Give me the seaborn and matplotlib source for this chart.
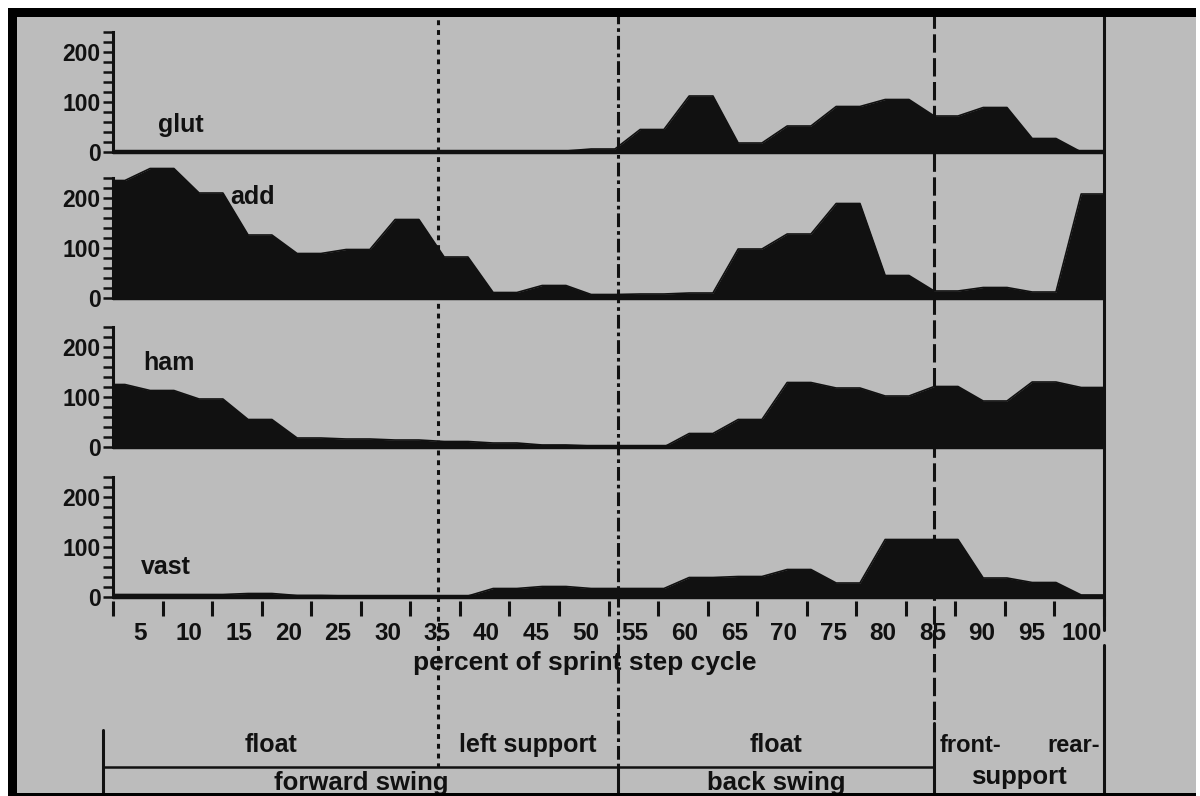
import numpy as np
import matplotlib
matplotlib.use("Agg")
import matplotlib.pyplot as plt
from matplotlib.patches import Rectangle
import seaborn as sns

sns.set_theme(style="white")
plt.rcParams['font.family'] = ['Liberation Sans', 'DejaVu Sans']
plt.rcParams['font.weight'] = 'bold'

# EMG activity per 5% bin of the sprint step cycle
percent = list(range(0, 101, 5))
glut = [2, 2, 2, 2, 2, 2, 2, 2, 2, 2, 6, 45, 112, 18, 52, 91, 105, 72, 89, 27, 0]
add = [235, 259, 210, 126, 89, 97, 157, 82, 11, 25, 7, 8, 10, 98, 128, 189, 45, 14, 21, 12, 208]
ham = [125, 113, 96, 55, 18, 16, 14, 11, 8, 4, 2, 0, 27, 55, 129, 118, 102, 121, 92, 130, 119]
vast = [5, 5, 5, 7, 3, 2, 2, 2, 17, 21, 17, 17, 39, 41, 55, 28, 115, 115, 38, 29, 4]

muscles = ["glut", "add", "ham", "vast"]
series = [glut, add, ham, vast]
tick_labels = [str(p) for p in range(5, 101, 5)]

# phase boundaries (percent of cycle)
phase_bounds = [32.8, 51.0, 82.8]
top_row = ["float", "left support", "float"]
bottom_row = ["forward swing", "back swing", "support"]

INK = "#111111"
W, H = 1200, 796
fig = plt.figure(figsize=(12, 7.96), dpi=100)
fig.patch.set_facecolor("white")


def box(x0, y0, x1, y1, color, z):
    # pixel box measured from the top-left corner
    fig.add_artist(Rectangle((x0 / W, 1 - y1 / H), (x1 - x0) / W, (y1 - y0) / H,
                             transform=fig.transFigure, color=color, zorder=z, lw=0))


box(17, 17, 1196, 793, "#bcbcbc", -5)
box(8, 8, 1196, 17, "black", 20)
box(8, 8, 17, 796, "black", 20)
box(8, 793, 1196, 796, "black", 20)

left, right = 113, 1104
baselines = [152, 298, 447, 597]
label_pos = [(6.8, 54), (14.1, 202), (5.6, 168), (5.3, 60)]
pos = np.array(percent) * 0.989
half = 1.2

axes = []
for i, (name, vals) in enumerate(zip(muscles, series)):
    b = baselines[i]
    ax = fig.add_axes([left / W, 1 - (b + 4) / H, (right - left) / W, 149 / H])
    ax.set_facecolor("none")
    xs = np.append(np.column_stack([pos - half, pos + half]).ravel(), 101.5)
    ys = np.append(np.repeat(vals, 2), vals[-1])
    ax.fill_between(xs, ys, 0, color=INK, lw=0)
    sns.lineplot(x=xs, y=ys, sort=False, estimator=None, color=INK, lw=1.2, ax=ax)
    ax.axhline(0, color=INK, lw=3.2)
    ax.set_xlim(0, 100)
    ax.set_ylim(-8, 290)
    for s in ["top", "right", "bottom"]:
        ax.spines[s].set_visible(False)
    ax.spines["left"].set_bounds(0, 240)
    ax.spines["left"].set_linewidth(2.2)
    ax.spines["left"].set_color(INK)
    ax.set_yticks(range(0, 241, 20))
    ax.set_yticklabels([str(v) if v % 100 == 0 else "" for v in range(0, 241, 20)])
    ax.tick_params(axis="y", left=True, direction="out", length=7, width=1.8,
                   color=INK, labelsize=16.5, pad=2, labelcolor=INK)
    ax.text(*label_pos[i], name, fontsize=18, color=INK, ha="center", va="center")
    if i < 3:
        ax.set_xticks([])
    else:
        ax.set_xticks(np.arange(5, 101, 5) - 2.3)
        ax.set_xticklabels(tick_labels)
        ax.set_xticks(np.arange(0, 101, 5), minor=True)
        ax.tick_params(axis="x", which="major", bottom=True, length=0, pad=15,
                       labelsize=17.5, labelcolor=INK)
        ax.tick_params(axis="x", which="minor", bottom=True, direction="out",
                       length=11, width=2.2, color=INK)
    ax.set_xlabel("")
    ax.set_ylabel("")
    axes.append(ax)

# overlay for phase lines and the phase table (y in pixels from top)
ov = fig.add_axes([left / W, 0, (right - left) / W, 1], zorder=5)
ov.set_xlim(0, 100)
ov.set_ylim(H, 0)
ov.axis("off")
ov.patch.set_alpha(0)

kw = dict(color=INK, clip_on=False, lw=2.2)
ov.plot([phase_bounds[0]] * 2, [10, 767], linestyle=(0, (1.6, 1.6)), **kw)
ov.plot([phase_bounds[1]] * 2, [10, 765], linestyle=(0, (4.5, 1.3, 1.2, 1.3)), **kw)
ov.plot([phase_bounds[1]] * 2, [765, 796], **kw)
ov.plot([phase_bounds[2]] * 2, [10, 723], linestyle=(0, (6, 1.8)), **kw)
ov.plot([phase_bounds[2]] * 2, [723, 796], **kw)
ov.plot([100, 100], [10, 630], **kw)
ov.plot([100, 100], [645, 796], **kw)
ov.plot([-1, -1], [730, 796], **kw)
ov.plot([-1, phase_bounds[2]], [767, 767], color=INK, clip_on=False, lw=1.8)

ov.text(47.6, 663, "percent of sprint step cycle", fontsize=19, color=INK,
        ha="center", va="center")

edges = [-1] + phase_bounds
for k, t in enumerate(top_row):
    ov.text((edges[k] + edges[k + 1]) / 2, 745, t, fontsize=18, color=INK,
            ha="center", va="center")
ov.text(phase_bounds[2] + 0.6, 745, "front-", fontsize=17, color=INK, ha="left", va="center")
ov.text(99.6, 745, "rear-", fontsize=17, color=INK, ha="right", va="center")
bottom_edges = [-1, phase_bounds[1], phase_bounds[2], 100]
for k, t in enumerate(bottom_row):
    ov.text((bottom_edges[k] + bottom_edges[k + 1]) / 2, 783 if k < 2 else 777, t,
            fontsize=18.5, color=INK, ha="center", va="center")

fig.savefig("out.png", dpi=100)
